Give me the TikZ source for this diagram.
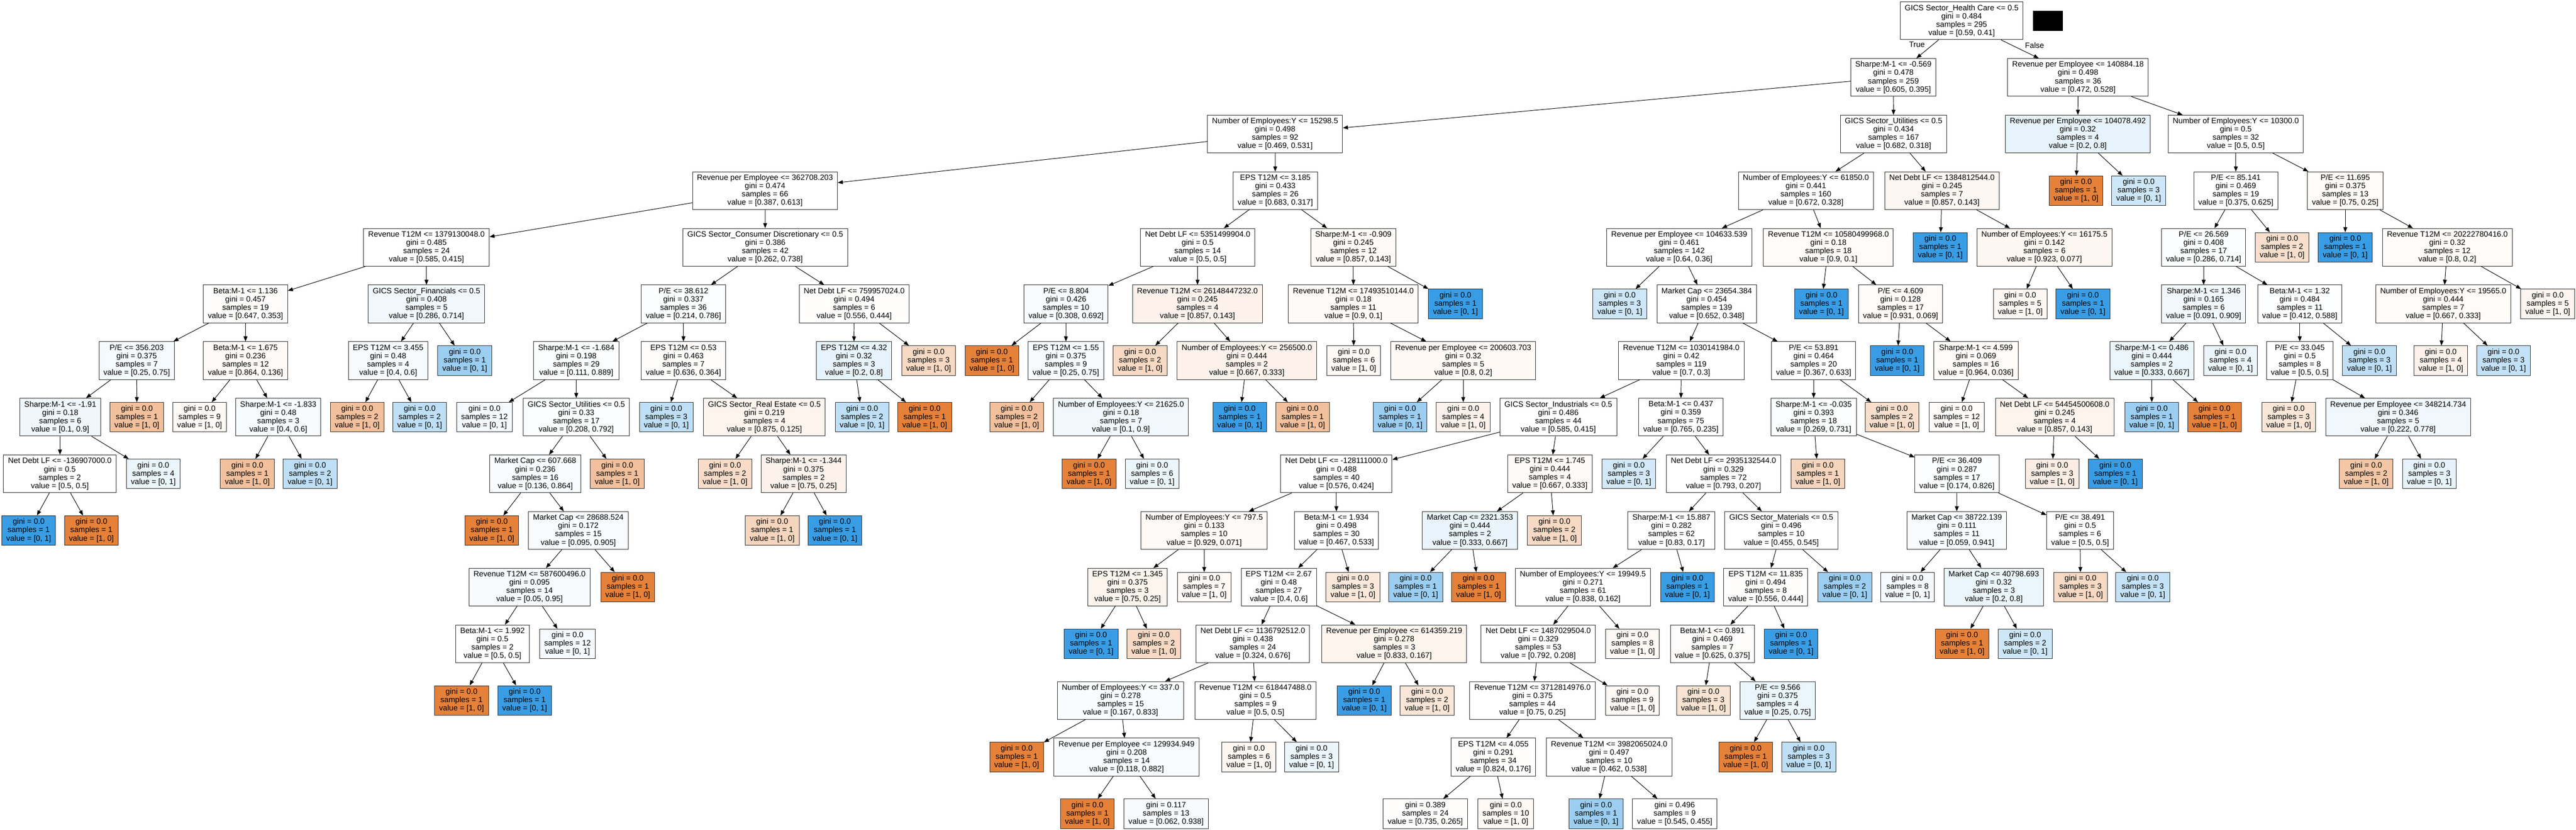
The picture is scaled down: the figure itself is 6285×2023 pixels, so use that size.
\documentclass[tikz,border=0pt]{standalone}
\usepackage{fontspec}
\setmainfont{Liberation Sans}
\usetikzlibrary{arrows.meta}
\definecolor{co}{RGB}{229,129,57}
\definecolor{cb}{RGB}{57,157,229}
\definecolor{bord}{RGB}{40,40,40}
\tikzset{
  tnode/.style={draw=bord, line width=1.24pt, rectangle, align=center, inner xsep=11pt, inner ysep=0pt, font=\fontsize{19}{20.2}\selectfont},
  inode/.style={tnode, minimum height=92pt},
  lnode/.style={tnode, minimum height=72pt},
  conn/.style={line width=1.24pt, -{Triangle[length=12.4pt,width=9.5pt]}},
  lbl/.style={font=\fontsize{19}{20.2}\selectfont, inner sep=0pt}
}
\newcommand{\TIN}[8]{\node[inode,fill=#4] (#1) at (#2,{50.6+138.1*#3}) {#5\\gini = #6\\samples = #7\\value = #8};}
\newcommand{\TLF}[7]{\node[lnode,fill=#4] (#1) at (#2,{50.6+138.1*#3}) {gini = #5\\samples = #6\\value = #7};}
\begin{document}
\begin{tikzpicture}[x=1pt,y=-1pt]
\fill[white] (0,0) rectangle (6285,2023);
\useasboundingbox (0,0) rectangle (6285,2023);
% L0
\TIN{R}{4786}{0}{white}{GICS Sector\_Health Care <= 0.5}{0.484}{295}{[0.59, 0.41]}
% L1
\TIN{S0}{4619.5}{1}{white}{Sharpe:M-1 <= -0.569}{0.478}{259}{[0.605, 0.395]}
\TIN{T0}{5070}{1}{white}{Revenue per Employee <= 140884.18}{0.498}{36}{[0.472, 0.528]}
% L2
\TIN{S1}{3111}{2}{white}{Number of Employees:Y <= 15298.5}{0.498}{92}{[0.469, 0.531]}
\TIN{S2}{4620}{2}{white}{GICS Sector\_Utilities <= 0.5}{0.434}{167}{[0.682, 0.318]}
\TIN{T1}{5069.5}{2}{cb!12!white}{Revenue per Employee <= 104078.492}{0.32}{4}{[0.2, 0.8]}
\TIN{T2}{5455}{2}{white}{Number of Employees:Y <= 10300.0}{0.5}{32}{[0.5, 0.5]}
% L3
\TIN{S11}{1866.5}{3}{white}{Revenue per Employee <= 362708.203}{0.474}{66}{[0.387, 0.613]}
\TIN{S12}{3111.5}{3}{white}{EPS T12M <= 3.185}{0.433}{26}{[0.683, 0.317]}
\TIN{h}{4406}{3}{white}{Number of Employees:Y <= 61850.0}{0.441}{160}{[0.672, 0.328]}
\TIN{i}{4738}{3}{co!6!white}{Net Debt LF <= 1384812544.0}{0.245}{7}{[0.857, 0.143]}
\TLF{T1x}{5065}{3}{co}{0.0}{1}{[1, 0]}
\TLF{T1y}{5218}{3}{cb!25!white}{0.0}{3}{[0, 1]}
\TIN{q}{5455}{3}{white}{P/E <= 85.141}{0.469}{19}{[0.375, 0.625]}
\TIN{r}{5722}{3}{co!3!white}{P/E <= 11.695}{0.375}{13}{[0.75, 0.25]}
% L4
\TIN{S111}{1040.5}{4}{white}{Revenue T12M <= 1379130048.0}{0.485}{24}{[0.585, 0.415]}
\TIN{S112}{1867}{4}{white}{GICS Sector\_Consumer Discretionary <= 0.5}{0.386}{42}{[0.262, 0.738]}
\TIN{f}{2922}{4}{white}{Net Debt LF <= 5351499904.0}{0.5}{14}{[0.5, 0.5]}
\TIN{g}{3302}{4}{co!4!white}{Sharpe:M-1 <= -0.909}{0.245}{12}{[0.857, 0.143]}
\TIN{h1}{4097}{4}{white}{Revenue per Employee <= 104633.539}{0.461}{142}{[0.64, 0.36]}
\TIN{h2}{4461}{4}{co!3!white}{Revenue T12M <= 10580499968.0}{0.18}{18}{[0.9, 0.1]}
\TLF{ix}{4734}{4}{cb}{0.0}{1}{[0, 1]}
\TIN{i2}{4988}{4}{co!7!white}{Number of Employees:Y <= 16175.5}{0.142}{6}{[0.923, 0.077]}
\TIN{q1}{5376.5}{4}{cb!2!white}{P/E <= 26.569}{0.408}{17}{[0.286, 0.714]}
\TLF{qy}{5568}{4}{co!25!white}{0.0}{2}{[1, 0]}
\TLF{rx}{5722}{4}{cb}{0.0}{1}{[0, 1]}
\TIN{r2}{5971}{4}{co!3!white}{Revenue T12M <= 20222780416.0}{0.32}{12}{[0.8, 0.2]}
% L5
\TIN{a}{599}{5}{co!2!white}{Beta:M-1 <= 1.136}{0.457}{19}{[0.647, 0.353]}
\TIN{b}{1040.5}{5}{cb!7!white}{GICS Sector\_Financials <= 0.5}{0.408}{5}{[0.286, 0.714]}
\TIN{c}{1667.5}{5}{cb!2!white}{P/E <= 38.612}{0.337}{36}{[0.214, 0.786]}
\TIN{d}{2084}{5}{co!1!white}{Net Debt LF <= 759957024.0}{0.494}{6}{[0.556, 0.444]}
\TIN{f1}{2601}{5}{cb!3!white}{P/E <= 8.804}{0.426}{10}{[0.308, 0.692]}
\TIN{f2}{2921.5}{5}{co!10!white}{Revenue T12M <= 26148447232.0}{0.245}{4}{[0.857, 0.143]}
\TIN{g1}{3302}{5}{co!4!white}{Revenue T12M <= 17493510144.0}{0.18}{11}{[0.9, 0.1]}
\TLF{gy}{3551}{5}{cb}{0.0}{1}{[0, 1]}
\TLF{h1x}{3952}{5}{cb!25!white}{0.0}{3}{[0, 1]}
\TIN{h12}{4164}{5}{white}{Market Cap <= 23654.384}{0.454}{139}{[0.652, 0.348]}
\TLF{h2x}{4444}{5}{cb}{0.0}{1}{[0, 1]}
\TIN{p}{4637}{5}{co!3!white}{P/E <= 4.609}{0.128}{17}{[0.931, 0.069]}
\TLF{i2x}{4929}{5}{co!6!white}{0.0}{5}{[1, 0]}
\TLF{i2y}{5082}{5}{cb}{0.0}{1}{[0, 1]}
\TIN{q11}{5376.5}{5}{cb!7!white}{Sharpe:M-1 <= 1.346}{0.165}{6}{[0.091, 0.909]}
\TIN{q12}{5611}{5}{cb!1!white}{Beta:M-1 <= 1.32}{0.484}{11}{[0.412, 0.588]}
\TIN{r21}{5961}{5}{co!3!white}{Number of Employees:Y <= 19565.0}{0.444}{7}{[0.667, 0.333]}
\TLF{r2y}{6216}{5}{co!8!white}{0.0}{5}{[1, 0]}
% L6
\TIN{a1}{333.5}{6}{cb!5!white}{P/E <= 356.203}{0.375}{7}{[0.25, 0.75]}
\TIN{a2}{599}{6}{co!4!white}{Beta:M-1 <= 1.675}{0.236}{12}{[0.864, 0.136]}
\TIN{b1}{947}{6}{cb!4!white}{EPS T12M <= 3.455}{0.48}{4}{[0.4, 0.6]}
\TLF{by}{1134}{6}{cb!50!white}{0.0}{1}{[0, 1]}
\TIN{c1}{1406}{6}{cb!2!white}{Sharpe:M-1 <= -1.684}{0.198}{29}{[0.111, 0.889]}
\TIN{c2}{1667.5}{6}{co!2!white}{EPS T12M <= 0.53}{0.463}{7}{[0.636, 0.364]}
\TIN{d1}{2083.5}{6}{cb!12!white}{EPS T12M <= 4.32}{0.32}{3}{[0.2, 0.8]}
\TLF{dy}{2265.6}{6}{co!30!white}{0.0}{3}{[1, 0]}
\TLF{f1x}{2420}{6}{co}{0.0}{1}{[1, 0]}
\TIN{f12}{2600.5}{6}{cb!4!white}{EPS T12M <= 1.55}{0.375}{9}{[0.25, 0.75]}
\TLF{f2x}{2781.6}{6}{co!30!white}{0.0}{2}{[1, 0]}
\TIN{f22}{3042}{6}{co!10!white}{Number of Employees:Y <= 256500.0}{0.444}{2}{[0.667, 0.333]}
\TLF{g1x}{3303}{6}{co!5!white}{0.0}{6}{[1, 0]}
\TIN{g12}{3570}{6}{co!5!white}{Revenue per Employee <= 200603.703}{0.32}{5}{[0.8, 0.2]}
\TIN{j}{4102}{6}{white}{Revenue T12M <= 1030141984.0}{0.42}{119}{[0.7, 0.3]}
\TIN{k}{4425}{6}{white}{P/E <= 53.891}{0.464}{20}{[0.367, 0.633]}
\TLF{px}{4629}{6}{cb}{0.0}{1}{[0, 1]}
\TIN{p2}{4821}{6}{co!3!white}{Sharpe:M-1 <= 4.599}{0.069}{16}{[0.964, 0.036]}
\TIN{q111}{5250}{6}{cb!10!white}{Sharpe:M-1 <= 0.486}{0.444}{2}{[0.333, 0.667]}
\TLF{q11y}{5442}{6}{cb!10!white}{0.0}{4}{[0, 1]}
\TIN{q121}{5611}{6}{white}{P/E <= 33.045}{0.5}{8}{[0.5, 0.5]}
\TLF{q12y}{5781}{6}{cb!33!white}{0.0}{3}{[0, 1]}
\TLF{r21x}{5955}{6}{co!10!white}{0.0}{4}{[1, 0]}
\TLF{r21y}{6108}{6}{cb!30!white}{0.0}{3}{[0, 1]}
% L7
\TIN{a11}{147}{7}{cb!8!white}{Sharpe:M-1 <= -1.91}{0.18}{6}{[0.1, 0.9]}
\TLF{a1y}{334}{7}{co!50!white}{0.0}{1}{[1, 0]}
\TLF{a2x}{487}{7}{co!5!white}{0.0}{9}{[1, 0]}
\TIN{a22}{679}{7}{cb!4!white}{Sharpe:M-1 <= -1.833}{0.48}{3}{[0.4, 0.6]}
\TLF{b1x}{871.5}{7}{co!50!white}{0.0}{2}{[1, 0]}
\TLF{b1y}{1024}{7}{cb!33!white}{0.0}{2}{[0, 1]}
\TLF{c1x}{1182}{7}{cb!5!white}{0.0}{12}{[0, 1]}
\TIN{c12}{1406}{7}{cb!2!white}{GICS Sector\_Utilities <= 0.5}{0.33}{17}{[0.208, 0.792]}
\TLF{c2x}{1625.6}{7}{cb!33!white}{0.0}{3}{[0, 1]}
\TIN{c22}{1865}{7}{co!9!white}{GICS Sector\_Real Estate <= 0.5}{0.219}{4}{[0.875, 0.125]}
\TLF{d1x}{2103.5}{7}{cb!33!white}{0.0}{2}{[0, 1]}
\TLF{d1y}{2256}{7}{co}{0.0}{1}{[1, 0]}
\TLF{f12x}{2480.5}{7}{co!50!white}{0.0}{2}{[1, 0]}
\TIN{f122}{2735}{7}{cb!7!white}{Number of Employees:Y <= 21625.0}{0.18}{7}{[0.1, 0.9]}
\TLF{f22x}{3024.6}{7}{cb}{0.0}{1}{[0, 1]}
\TLF{f22y}{3178}{7}{co!50!white}{0.0}{1}{[1, 0]}
\TLF{g12x}{3416}{7}{cb!50!white}{0.0}{1}{[0, 1]}
\TLF{g12y}{3570}{7}{co!10!white}{0.0}{4}{[1, 0]}
\TIN{j1}{3802}{7}{white}{GICS Sector\_Industrials <= 0.5}{0.486}{44}{[0.585, 0.415]}
\TIN{j2}{4101}{7}{white}{Beta:M-1 <= 0.437}{0.359}{75}{[0.765, 0.235]}
\TIN{k1}{4425}{7}{cb!2!white}{Sharpe:M-1 <= -0.035}{0.393}{18}{[0.269, 0.731]}
\TLF{ky}{4616}{7}{co!25!white}{0.0}{2}{[1, 0]}
\TLF{p2x}{4774}{7}{co!3!white}{0.0}{12}{[1, 0]}
\TIN{p22}{5013}{7}{co!9!white}{Net Debt LF <= 54454500608.0}{0.245}{4}{[0.857, 0.143]}
\TLF{q111x}{5250}{7}{cb!50!white}{0.0}{1}{[0, 1]}
\TLF{q111y}{5403}{7}{co}{0.0}{1}{[1, 0]}
\TLF{q121x}{5584}{7}{co!20!white}{0.0}{3}{[1, 0]}
\TIN{q1212}{5851}{7}{cb!7!white}{Revenue per Employee <= 348214.734}{0.346}{5}{[0.222, 0.778]}
% L8
\TIN{a111}{146}{8}{white}{Net Debt LF <= -136907000.0}{0.5}{2}{[0.5, 0.5]}
\TLF{a11y}{374}{8}{cb!10!white}{0.0}{4}{[0, 1]}
\TLF{a22x}{603.5}{8}{co!50!white}{0.0}{1}{[1, 0]}
\TLF{a22y}{756.5}{8}{cb!33!white}{0.0}{2}{[0, 1]}
\TIN{c121}{1306}{8}{cb!3!white}{Market Cap <= 607.668}{0.236}{16}{[0.136, 0.864]}
\TLF{c12y}{1506}{8}{co!50!white}{0.0}{1}{[1, 0]}
\TLF{c22x}{1769}{8}{co!28!white}{0.0}{2}{[1, 0]}
\TIN{c222}{1960.6}{8}{co!10!white}{Sharpe:M-1 <= -1.344}{0.375}{2}{[0.75, 0.25]}
\TLF{f122x}{2657}{8}{co}{0.0}{1}{[1, 0]}
\TLF{f122y}{2811}{8}{cb!10!white}{0.0}{6}{[0, 1]}
\TIN{j11}{3260.5}{8}{white}{Net Debt LF <= -128111000.0}{0.488}{40}{[0.576, 0.424]}
\TIN{j12}{3781.5}{8}{co!4!white}{EPS T12M <= 1.745}{0.444}{4}{[0.667, 0.333]}
\TLF{j2x}{3974}{8}{cb!22!white}{0.0}{3}{[0, 1]}
\TIN{j22}{4205}{8}{white}{Net Debt LF <= 2935132544.0}{0.329}{72}{[0.793, 0.207]}
\TLF{k1x}{4435}{8}{co!33!white}{0.0}{1}{[1, 0]}
\TIN{k12}{4774.5}{8}{cb!2!white}{P/E <= 36.409}{0.287}{17}{[0.174, 0.826]}
\TLF{p22x}{5007}{8}{co!14!white}{0.0}{3}{[1, 0]}
\TLF{p22y}{5161}{8}{cb}{0.0}{1}{[0, 1]}
\TLF{q1212x}{5773}{8}{co!45!white}{0.0}{2}{[1, 0]}
\TLF{q1212y}{5927}{8}{cb!12!white}{0.0}{3}{[0, 1]}
% L9
\TLF{a111x}{70}{9}{cb}{0.0}{1}{[0, 1]}
\TLF{a111y}{223}{9}{co}{0.0}{1}{[1, 0]}
\TLF{c121x}{1200}{9}{co}{0.0}{1}{[1, 0]}
\TIN{c1212}{1411}{9}{cb!3!white}{Market Cap <= 28688.524}{0.172}{15}{[0.095, 0.905]}
\TLF{c222x}{1884}{9}{co!33!white}{0.0}{1}{[1, 0]}
\TLF{c222y}{2037}{9}{cb}{0.0}{1}{[0, 1]}
\TIN{j111}{2938}{9}{co!4!white}{Number of Employees:Y <= 797.5}{0.133}{10}{[0.929, 0.071]}
\TIN{j112}{3260.5}{9}{white}{Beta:M-1 <= 1.934}{0.498}{30}{[0.467, 0.533]}
\TIN{j121}{3586.5}{9}{cb!11!white}{Market Cap <= 2321.353}{0.444}{2}{[0.333, 0.667]}
\TLF{j12y}{3792.5}{9}{co!30!white}{0.0}{2}{[1, 0]}
\TIN{n}{4078}{9}{white}{Sharpe:M-1 <= 15.887}{0.282}{62}{[0.83, 0.17]}
\TIN{o}{4346}{9}{white}{GICS Sector\_Materials <= 0.5}{0.496}{10}{[0.455, 0.545]}
\TIN{k121}{4774}{9}{cb!3!white}{Market Cap <= 38722.139}{0.111}{11}{[0.059, 0.941]}
\TIN{k122}{5075}{9}{white}{P/E <= 38.491}{0.5}{6}{[0.5, 0.5]}
% L10
\TIN{e}{1292}{10}{cb!4!white}{Revenue T12M <= 587600496.0}{0.095}{14}{[0.05, 0.95]}
\TLF{c1212y}{1531.6}{10}{co}{0.0}{1}{[1, 0]}
\TIN{j1111}{2751}{10}{co!9!white}{EPS T12M <= 1.345}{0.375}{3}{[0.75, 0.25]}
\TLF{j111y}{2938}{10}{co!5!white}{0.0}{7}{[1, 0]}
\TIN{m}{3120}{10}{white}{EPS T12M <= 2.67}{0.48}{27}{[0.4, 0.6]}
\TLF{j112y}{3301}{10}{co!18!white}{0.0}{3}{[1, 0]}
\TLF{j121x}{3454}{10}{cb!50!white}{0.0}{1}{[0, 1]}
\TLF{j121y}{3607.5}{10}{co}{0.0}{1}{[1, 0]}
\TIN{n1}{3862}{10}{white}{Number of Employees:Y <= 19949.5}{0.271}{61}{[0.838, 0.162]}
\TLF{ny}{4117}{10}{cb}{0.0}{1}{[0, 1]}
\TIN{o1}{4308}{10}{co!1!white}{EPS T12M <= 11.835}{0.494}{8}{[0.556, 0.444]}
\TLF{oy}{4501}{10}{cb!50!white}{0.0}{2}{[0, 1]}
\TLF{k121x}{4654}{10}{cb!5!white}{0.0}{8}{[0, 1]}
\TIN{k1212}{4864.5}{10}{cb!10!white}{Market Cap <= 40798.693}{0.32}{3}{[0.2, 0.8]}
\TLF{k122x}{5076}{10}{co!30!white}{0.0}{3}{[1, 0]}
\TLF{k122y}{5228}{10}{cb!30!white}{0.0}{3}{[0, 1]}
% L11
\TIN{e1}{1201.5}{11}{white}{Beta:M-1 <= 1.992}{0.5}{2}{[0.5, 0.5]}
\TLF{ey}{1384.6}{11}{cb!5!white}{0.0}{12}{[0, 1]}
\TLF{j1111x}{2662}{11}{cb}{0.0}{1}{[0, 1]}
\TLF{j1111y}{2815}{11}{co!30!white}{0.0}{2}{[1, 0]}
\TIN{m1}{3056.6}{11}{white}{Net Debt LF <= 1136792512.0}{0.438}{24}{[0.324, 0.676]}
\TIN{m2}{3401.5}{11}{co!9!white}{Revenue per Employee <= 614359.219}{0.278}{3}{[0.833, 0.167]}
\TIN{n11}{3753}{11}{white}{Net Debt LF <= 1487029504.0}{0.329}{53}{[0.792, 0.208]}
\TLF{n1y}{3983}{11}{co!5!white}{0.0}{8}{[1, 0]}
\TIN{o11}{4178}{11}{co!2!white}{Beta:M-1 <= 0.891}{0.469}{7}{[0.625, 0.375]}
\TLF{o1y}{4370}{11}{cb}{0.0}{1}{[0, 1]}
\TLF{k1212x}{4787}{11}{co}{0.0}{1}{[1, 0]}
\TLF{k1212y}{4941}{11}{cb!25!white}{0.0}{2}{[0, 1]}
% L12
\TLF{e1x}{1126}{12}{co}{0.0}{1}{[1, 0]}
\TLF{e1y}{1280}{12}{cb}{0.0}{1}{[0, 1]}
\TIN{m11}{2734}{12}{cb!3!white}{Number of Employees:Y <= 337.0}{0.278}{15}{[0.167, 0.833]}
\TIN{m12}{3063}{12}{white}{Revenue T12M <= 618447488.0}{0.5}{9}{[0.5, 0.5]}
\TLF{m2x}{3328.5}{12}{cb}{0.0}{1}{[0, 1]}
\TLF{m2y}{3482}{12}{co!20!white}{0.0}{2}{[1, 0]}
\TIN{n111}{3739}{12}{white}{Revenue T12M <= 3712814976.0}{0.375}{44}{[0.75, 0.25]}
\TLF{n11y}{3983}{12}{co!5!white}{0.0}{9}{[1, 0]}
\TLF{o11x}{4156}{12}{co!22!white}{0.0}{3}{[1, 0]}
\TIN{o112}{4337}{12}{cb!10!white}{P/E <= 9.566}{0.375}{4}{[0.25, 0.75]}
% L13
\TLF{m11x}{2480.5}{13}{co}{0.0}{1}{[1, 0]}
\TIN{m112}{2748.6}{13}{cb!3!white}{Revenue per Employee <= 129934.949}{0.208}{14}{[0.118, 0.882]}
\TLF{m12x}{3047}{13}{co!7!white}{0.0}{6}{[1, 0]}
\TLF{m12y}{3200}{13}{cb!10!white}{0.0}{3}{[0, 1]}
\TIN{n1111}{3643.5}{13}{co!1!white}{EPS T12M <= 4.055}{0.291}{34}{[0.824, 0.176]}
\TIN{n1112}{3926}{13}{white}{Revenue T12M <= 3982065024.0}{0.497}{10}{[0.462, 0.538]}
\TLF{o112x}{4259}{13}{co}{0.0}{1}{[1, 0]}
\TLF{o112y}{4413}{13}{cb!33!white}{0.0}{3}{[0, 1]}
% L14
\TLF{m112x}{2653}{14}{co}{0.0}{1}{[1, 0]}
\TLF{m112y}{2845}{14}{cb!4!white}{0.117}{13}{[0.062, 0.938]}
\TLF{n1111x}{3477.5}{14}{co!1!white}{0.389}{24}{[0.735, 0.265]}
\TLF{n1111y}{3674}{14}{co!5!white}{0.0}{10}{[1, 0]}
\TLF{n1112x}{3894}{14}{cb!50!white}{0.0}{1}{[0, 1]}
\TLF{n1112y}{4086}{14}{white}{0.496}{9}{[0.545, 0.455]}
% labels and mark
\node[lbl] (truelbl) at (4677,108) {True};
\node[lbl] (falselbl) at (4964,111) {False};
\fill[black] (4960,26) rectangle (5033,75);
% edges
\foreach \p/\c in {R/S0, R/T0, S0/S1, S0/S2, T0/T1, T0/T2, S1/S11, S1/S12, S2/h, S2/i, T1/T1x, T1/T1y, T2/q, T2/r,
 S11/S111, S11/S112, S12/f, S12/g, h/h1, h/h2, i/ix, i/i2, q/q1, q/qy, r/rx, r/r2,
 S111/a, S111/b, S112/c, S112/d, f/f1, f/f2, g/g1, g/gy, h1/h1x, h1/h12, h2/h2x, h2/p, i2/i2x, i2/i2y, q1/q11, q1/q12, r2/r21, r2/r2y,
 a/a1, a/a2, b/b1, b/by, c/c1, c/c2, d/d1, d/dy, f1/f1x, f1/f12, f2/f2x, f2/f22, g1/g1x, g1/g12, h12/j, h12/k, p/px, p/p2, q11/q111, q11/q11y, q12/q121, q12/q12y, r21/r21x, r21/r21y,
 a1/a11, a1/a1y, a2/a2x, a2/a22, b1/b1x, b1/b1y, c1/c1x, c1/c12, c2/c2x, c2/c22, d1/d1x, d1/d1y, f12/f12x, f12/f122, f22/f22x, f22/f22y, g12/g12x, g12/g12y, j/j1, j/j2, k/k1, k/ky, p2/p2x, p2/p22, q111/q111x, q111/q111y, q121/q121x, q121/q1212,
 a11/a111, a11/a11y, a22/a22x, a22/a22y, c12/c121, c12/c12y, c22/c22x, c22/c222, f122/f122x, f122/f122y, j1/j11, j1/j12, j2/j2x, j2/j22, k1/k1x, k1/k12, p22/p22x, p22/p22y, q1212/q1212x, q1212/q1212y,
 a111/a111x, a111/a111y, c121/c121x, c121/c1212, c222/c222x, c222/c222y, j11/j111, j11/j112, j12/j121, j12/j12y, j22/n, j22/o, k12/k121, k12/k122,
 c1212/e, c1212/c1212y, j111/j1111, j111/j111y, j112/m, j112/j112y, j121/j121x, j121/j121y, n/n1, n/ny, o/o1, o/oy, k121/k121x, k121/k1212, k122/k122x, k122/k122y,
 e/e1, e/ey, j1111/j1111x, j1111/j1111y, m/m1, m/m2, n1/n11, n1/n1y, o1/o11, o1/o1y, k1212/k1212x, k1212/k1212y,
 e1/e1x, e1/e1y, m1/m11, m1/m12, m2/m2x, m2/m2y, n11/n111, n11/n11y, o11/o11x, o11/o112,
 m11/m11x, m11/m112, m12/m12x, m12/m12y, n111/n1111, n111/n1112, o112/o112x, o112/o112y,
 m112/m112x, m112/m112y, n1111/n1111x, n1111/n1111y, n1112/n1112x, n1112/n1112y}
 \draw[conn] (\p) -- (\c);
\end{tikzpicture}
\end{document}
